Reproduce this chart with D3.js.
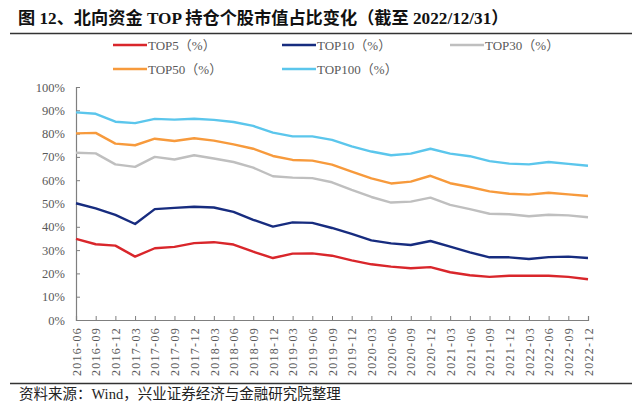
<!DOCTYPE html>
<html><head><meta charset="utf-8">
<script src="https://cdn.jsdelivr.net/npm/d3@7/dist/d3.min.js"></script>
<style>
body{margin:0;background:#fff;}
svg{display:block;}
</style></head>
<body>
<svg id="chart" width="640" height="419"></svg>
<script>
const dates = ["2016-06","2016-09","2016-12","2017-03","2017-06","2017-09","2017-12","2018-03","2018-06","2018-09","2018-12","2019-03","2019-06","2019-09","2019-12","2020-03","2020-06","2020-09","2020-12","2021-03","2021-06","2021-09","2021-12","2022-03","2022-06","2022-09","2022-12"];
const top5 = [34.8,32.5,31.9,27.2,30.8,31.4,33.0,33.4,32.4,29.3,26.6,28.5,28.6,27.6,25.6,23.9,22.9,22.2,22.7,20.5,19.2,18.5,19.0,19.0,19.0,18.5,17.5];
const top10 = [50.1,47.9,45.1,41.2,47.6,48.1,48.6,48.3,46.4,43.0,40.1,41.9,41.7,39.5,37.0,34.2,32.9,32.2,33.9,31.5,29.0,26.9,26.9,26.2,27.0,27.2,26.6];
const top30 = [71.8,71.5,66.8,65.7,70.0,68.9,70.7,69.3,67.8,65.4,61.7,61.1,60.9,59.1,55.8,52.8,50.4,50.8,52.5,49.4,47.6,45.6,45.4,44.5,45.2,44.9,44.1];
const top50 = [80.1,80.3,75.7,75.0,77.8,76.8,78.0,77.0,75.4,73.5,70.4,68.7,68.4,66.7,63.7,60.8,58.6,59.4,61.9,58.7,57.1,55.2,54.2,53.8,54.6,53.9,53.2];
const top100 = [89.1,88.5,85.1,84.5,86.3,86.0,86.4,85.9,85.0,83.3,80.4,78.8,78.8,77.3,74.5,72.3,70.7,71.4,73.5,71.4,70.3,68.2,67.1,66.8,67.8,67.0,66.2];
const seriesNames = ["TOP5（%）","TOP10（%）","TOP30（%）","TOP50（%）","TOP100（%）"];
const yTicks = [0,10,20,30,40,50,60,70,80,90,100];
const titleText = "图 12、北向资金 TOP 持仓个股市值占比变化（截至 2022/12/31）";
const sourceText = "资料来源：Wind，兴业证券经济与金融研究院整理";

const colors = ["#d9262b","#172c7f","#bfbfbf","#f79a3c","#5bc6ec"];
const seriesData = [top5, top10, top30, top50, top100];

const svg = d3.select("#chart");
const serif = "'Liberation Serif','Times New Roman','Noto Sans CJK SC',serif";
const cjk = "'Liberation Serif','Noto Sans CJK SC',serif";

// Title
svg.append("text").attr("x", 18).attr("y", 24)
  .attr("font-family", cjk).attr("font-weight", "bold").attr("font-size", 17.2)
  .attr("fill", "#111").text(titleText);
svg.append("line").attr("x1", 10).attr("x2", 632).attr("y1", 33.5).attr("y2", 33.5)
  .attr("stroke", "#333").attr("stroke-width", 1.5);

const x = d3.scalePoint().domain(dates).range([76, 588]);
const y = d3.scaleLinear().domain([0, 100]).range([320, 87]);

// Y axis
const yAxis = d3.axisLeft(y).tickValues(yTicks).tickSize(-4).tickPadding(11)
  .tickFormat(d => d + "%");
const gy = svg.append("g").attr("transform", "translate(76,0)").call(yAxis);
gy.select(".domain").attr("stroke", "#7f7f7f").attr("stroke-width", 1.2);
gy.selectAll(".tick line").attr("stroke", "#7f7f7f");
gy.selectAll(".tick text").attr("font-family", serif).attr("font-size", 12.5).attr("fill", "#595959");

// X axis
const xAxis = d3.axisBottom(x).tickSize(-4).tickPadding(6);
const gx = svg.append("g").attr("transform", "translate(0,320)").call(xAxis);
gx.select(".domain").attr("stroke", "#7f7f7f").attr("stroke-width", 1.2);
gx.selectAll(".tick line").attr("stroke", "#7f7f7f");
gx.selectAll(".tick text")
  .attr("font-family", serif).attr("font-size", 12).attr("fill", "#595959")
  .attr("letter-spacing", 1.3)
  .attr("transform", "rotate(-90)")
  .attr("text-anchor", "end")
  .attr("dy", "0.35em")
  .attr("x", -7).attr("y", 0);

// Lines
const line = d3.line().x((d, i) => x(dates[i])).y(d => y(d));
seriesData.forEach((s, k) => {
  svg.append("path").datum(s).attr("d", line)
    .attr("fill", "none").attr("stroke", colors[k]).attr("stroke-width", 2.4)
    .attr("stroke-linejoin", "round");
});

// Legend
const legendPos = [[113,45],[282,45],[450,45],[113,69],[282,69]];
seriesNames.forEach((n, k) => {
  const [lx, ly] = legendPos[k];
  svg.append("line").attr("x1", lx).attr("x2", lx + 34).attr("y1", ly).attr("y2", ly)
    .attr("stroke", colors[k]).attr("stroke-width", 2.6);
  svg.append("text").attr("x", lx + 35).attr("y", ly + 4.5)
    .attr("font-family", serif).attr("font-size", 13).attr("fill", "#595959").text(n);
});

// Source
svg.append("line").attr("x1", 10).attr("x2", 632).attr("y1", 383.5).attr("y2", 383.5)
  .attr("stroke", "#333").attr("stroke-width", 1.5);
svg.append("text").attr("x", 19).attr("y", 399)
  .attr("font-family", cjk).attr("font-size", 14.5).attr("fill", "#222").text(sourceText);
</script>
</body></html>
